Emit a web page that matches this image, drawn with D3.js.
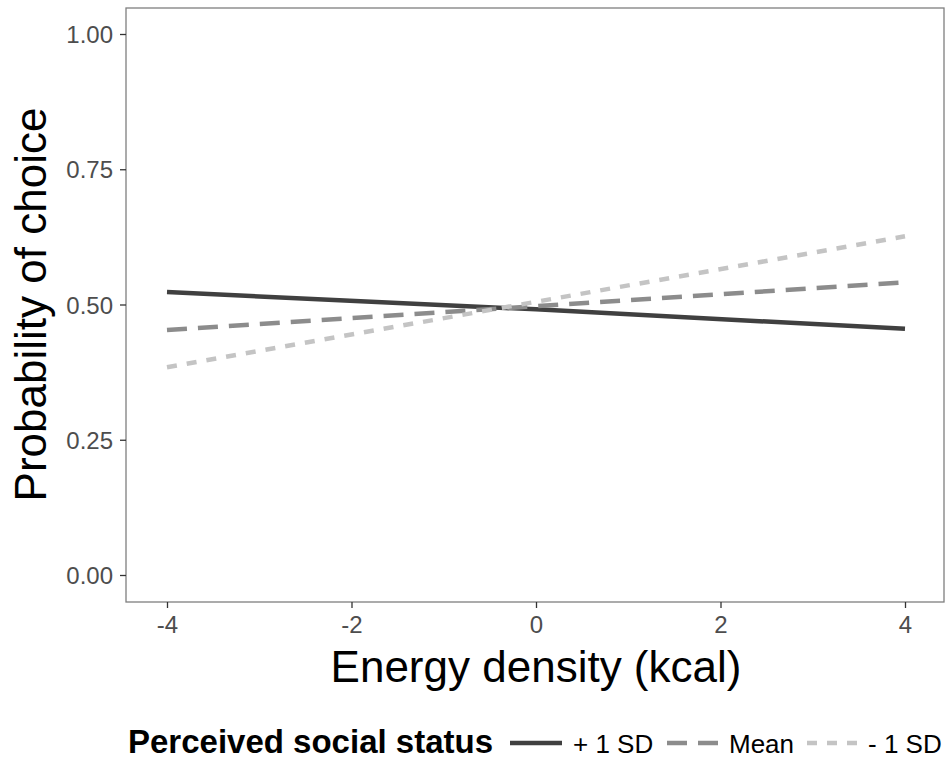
<!DOCTYPE html>
<html>
<head>
<meta charset="utf-8">
<script src="https://cdn.jsdelivr.net/npm/d3@7"></script>
<style>
  body { margin: 0; background: #fff; }
  text { font-family: "Liberation Sans", Arial, sans-serif; }
</style>
</head>
<body>
<div id="chart"></div>
<script>
// Data
const xValues = [-4, 0, 4];
const plusSD = [0.523, 0.491, 0.455];
const meanSD = [0.453, 0.497, 0.541];
const minusSD = [0.384, 0.505, 0.626];
const seriesNames = ['+ 1 SD', 'Mean', '- 1 SD'];
const xTicks = [-4, -2, 0, 2, 4];
const yTicks = [0, 0.25, 0.5, 0.75, 1];

const width = 945;
const height = 766;
const panel = { left: 126, top: 8, right: 944, bottom: 602 };

const svg = d3.select('#chart')
  .append('svg')
  .attr('width', width)
  .attr('height', height);

// Scales
const x = d3.scaleLinear().domain([-4, 4]).range([167, 905]);
const y = d3.scaleLinear().domain([0, 1]).range([575, 34]);

// Series styling
const styles = [
  { color: '#404040', dash: null, data: plusSD },
  { color: '#8c8c8c', dash: '20,11', data: meanSD },
  { color: '#c4c4c4', dash: '10,10', data: minusSD }
];

const line = d3.line()
  .x(d => x(d.x))
  .y(d => y(d.y));

// Lines
styles.forEach(s => {
  const pts = xValues.map((v, i) => ({ x: v, y: s.data[i] }));
  svg.append('path')
    .datum(pts)
    .attr('d', line)
    .attr('fill', 'none')
    .attr('stroke', s.color)
    .attr('stroke-width', 4.5)
    .attr('stroke-dasharray', s.dash);
});

// Panel border
svg.append('rect')
  .attr('x', panel.left)
  .attr('y', panel.top)
  .attr('width', panel.right - panel.left)
  .attr('height', panel.bottom - panel.top)
  .attr('fill', 'none')
  .attr('stroke', '#7f7f7f')
  .attr('stroke-width', 1.3);

// Y axis
const yAxis = svg.append('g')
  .attr('transform', `translate(${panel.left},0)`)
  .call(d3.axisLeft(y).tickValues(yTicks).tickFormat(d3.format('.2f')).tickSize(6).tickPadding(7));
yAxis.select('.domain').remove();
yAxis.selectAll('.tick line').attr('stroke', '#333').attr('stroke-width', 1.3);
yAxis.selectAll('.tick text')
  .style('font-family', '"Liberation Sans", Arial, sans-serif')
  .style('font-size', '24px')
  .attr('dy', '0.36em')
  .attr('fill', '#4d4d4d');

// X axis (ggplot style hyphen minus)
const xAxis = svg.append('g')
  .attr('transform', `translate(0,${panel.bottom})`)
  .call(d3.axisBottom(x).tickValues(xTicks).tickFormat(d => String(d)).tickSize(6).tickPadding(8));
xAxis.select('.domain').remove();
xAxis.selectAll('.tick line').attr('stroke', '#333').attr('stroke-width', 1.3);
xAxis.selectAll('.tick text')
  .style('font-family', '"Liberation Sans", Arial, sans-serif')
  .style('font-size', '24px')
  .attr('fill', '#4d4d4d');

// Axis titles
svg.append('text')
  .attr('x', (x(-4) + x(4)) / 2)
  .attr('y', 682)
  .attr('text-anchor', 'middle')
  .style('font-size', '44px')
  .attr('fill', '#000')
  .text('Energy density (kcal)');

svg.append('text')
  .attr('transform', `translate(46,${(y(0) + y(1)) / 2}) rotate(-90)`)
  .attr('text-anchor', 'middle')
  .style('font-size', '44px')
  .attr('fill', '#000')
  .text('Probability of choice');

// Legend
const legend = svg.append('g').attr('transform', 'translate(0,753)');
legend.append('text')
  .attr('x', 128)
  .attr('y', 0)
  .style('font-size', '33px')
  .style('font-weight', 'bold')
  .attr('fill', '#000')
  .text('Perceived social status');

const keyX = [510, 667, 807];
const keyW = [52, 52, 52];
const labelX = [573, 729, 868];
styles.forEach((s, i) => {
  legend.append('line')
    .attr('x1', keyX[i])
    .attr('x2', keyX[i] + keyW[i])
    .attr('y1', -10)
    .attr('y2', -10)
    .attr('stroke', s.color)
    .attr('stroke-width', 4.5)
    .attr('stroke-dasharray', s.dash);
  legend.append('text')
    .attr('x', labelX[i])
    .attr('y', 0)
    .style('font-size', '26px')
    .attr('fill', '#000')
    .text(seriesNames[i]);
});
</script>
</body>
</html>
